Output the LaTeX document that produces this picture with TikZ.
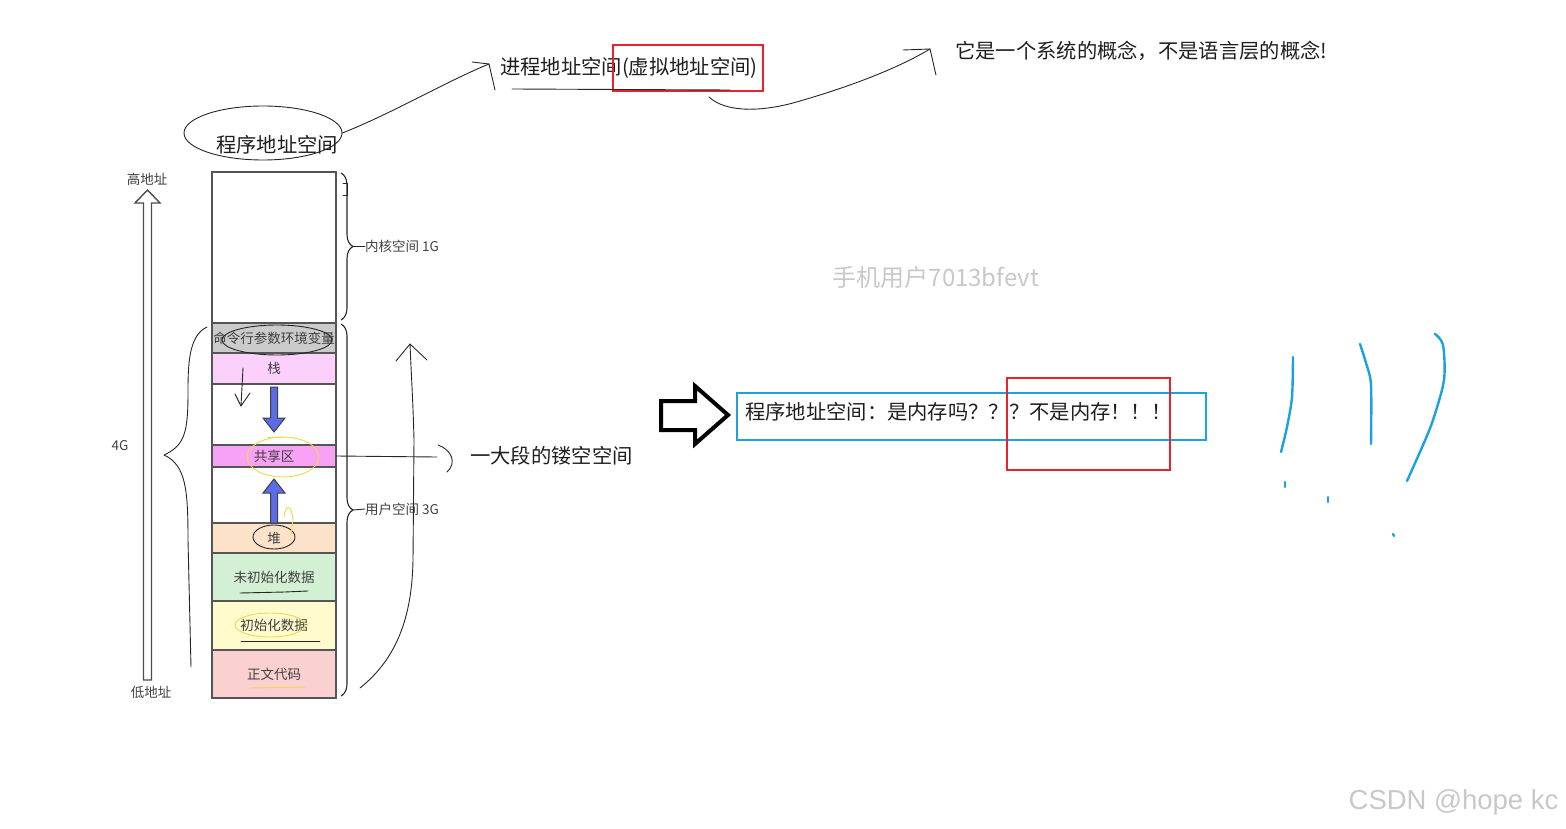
\documentclass[tikz,border=0pt]{standalone}
\usepackage{fontspec}
\setmainfont{Noto Sans CJK SC}
\newfontfamily\csdnfont{Liberation Sans}
\usetikzlibrary{shapes.geometric,decorations.pathreplacing}

\definecolor{segline}{HTML}{555555}
\definecolor{segGray}{HTML}{CBCBCB}
\definecolor{segPink}{HTML}{FBD0FB}
\definecolor{segMag}{HTML}{F7A2F5}
\definecolor{segPeach}{HTML}{FDE2CA}
\definecolor{segGreen}{HTML}{D4F0D4}
\definecolor{segYellow}{HTML}{FFFBCD}
\definecolor{segRed}{HTML}{FAD0D0}
\definecolor{labelgray}{HTML}{404040}
\definecolor{textdark}{HTML}{1E1E1E}
\definecolor{boxblue}{HTML}{1BA1E2}
\definecolor{boxred}{HTML}{E8232B}
\definecolor{arrowblue}{HTML}{5C6CE6}
\definecolor{markyellow}{HTML}{EED94C}
\definecolor{wmgray}{HTML}{C8C8C8}

\begin{document}
\begin{tikzpicture}[x=1pt,y=-1pt,
  seg/.style={draw=segline,line width=1.4pt,minimum width=124pt,inner sep=0pt,
    outer sep=0pt,font=\fontsize{13.5}{15}\selectfont,text=labelgray},
  small/.style={font=\fontsize{13.5}{15}\selectfont,text=labelgray,inner sep=0pt},
  big/.style={font=\fontsize{20.3}{22}\selectfont,text=textdark,inner sep=0pt},
  hand/.style={draw=black!85,line width=0.9pt,line cap=round,line join=round},
  yel/.style={draw=markyellow,line width=0.9pt,line cap=round},
  scrib/.style={draw=boxblue,line width=2.4pt,line cap=round,line join=round},
  bluearrow/.style={draw=black!75,fill=arrowblue,line width=1pt},
  redbox/.style={draw=boxred,line width=1.5pt},
  curly/.style={draw=black!85,line width=1.1pt,decorate,decoration={brace,amplitude=12pt}}]
    \useasboundingbox (0,0) rectangle (1566,829);

    \foreach \nm/\ya/\yb/\col/\txt in {kern/172/323/white/{},
        cmd/323/353/segGray/命令行参数环境变量,stk/353/384/segPink/栈,
        gapa/384/445/white/{},shr/445/467/segMag/共享区,gapb/467/523/white/{},
        heap/523/553/segPeach/堆,bss/553/601/segGreen/未初始化数据,
        dat/601/650/segYellow/初始化数据,code/650/698/segRed/正文代码} {
      \pgfmathsetmacro\h{\yb-\ya}
      \node[seg,fill=\col,minimum height=\h pt] (\nm) at (274,{(\ya+\yb)/2}) {\txt};
    }

    \draw[bluearrow] (270.5,387) -- (277.5,387) -- (277.5,418) -- (285,418)
      -- (274,432) -- (263,418) -- (270.5,418) -- cycle;
    \draw[bluearrow] (270.5,523) -- (277.5,523) -- (277.5,493) -- (285,493)
      -- (274,479) -- (263,493) -- (270.5,493) -- cycle;

    \draw[hand] (277,340) ellipse [x radius=55,y radius=15];
    \draw[hand] (274,537) ellipse [x radius=21,y radius=12];
    \draw[yel] (283,457) ellipse [x radius=36,y radius=20];
    \draw[yel] (268,437) -- (283,437);
    \draw[yel] (270,625) ellipse [x radius=35,y radius=12];
    \draw[yel] (284,517) .. controls (286,503) and (292,505) .. (293,520) -- (291,535);
    \draw[yel] (250,688) -- (306,687);
    \draw[hand] (240,593) -- (285,592) -- (308,591);
    \draw[hand] (241,641) -- (320,641);
    \draw[hand] (243,368) -- (241,406);
    \draw[hand] (235,394) -- (241,406) -- (250,393);

    \draw[draw=black!70,fill=white,line width=1.4pt] (143.5,680) -- (143.5,203)
      -- (135,203) -- (147.5,190) -- (160,203) -- (151.5,203) -- (151.5,680) -- cycle;
    \node[small] (hi) at (147,179) {高地址};
    \node[small] (lo) at (151,692) {低地址};
    \node[small] (four) at (120,446) {4G};
    \draw[hand] (207,327) .. controls (190,335) and (188,360) .. (188,390)
      .. controls (188,430) and (186,445) .. (164,455)
      .. controls (186,465) and (188,490) .. (188,540) -- (191,667);

    \draw[curly] (341,173) -- (341,320);
    \draw[curly] (341,324) -- (341,696);
    \draw[hand] (343,183) -- (347,183) -- (347,195) -- (343,195);
    \coordinate (ktip) at (353,246);
    \coordinate (utip) at (353,510);
    \node[small,anchor=west] (kernlbl) at (365,246) {内核空间 1G};
    \node[small,anchor=west] (userlbl) at (365,509) {用户空间 3G};
    \draw[hand] (ktip) -- (kernlbl.west);
    \draw[hand] (utip) -- (userlbl.west);

    \coordinate (uptip) at (410,344);
    \draw[hand] (360,688) .. controls (395,660) and (412,620) .. (413,560)
      -- (414,440) .. controls (413,400) and (411,370) .. (uptip);
    \draw[hand] (396,361) -- (uptip) -- (427,360);

    \node[big,anchor=west] (hollow) at (470,456) {一大段的镂空空间};
    \draw[hand] (shr.east) -- (437,457);
    \draw[hand] (438,445) .. controls (452,450) and (457,463) .. (447,472);

    \node[draw=black!85,ellipse,line width=0.9pt,minimum width=158pt,minimum height=54pt]
      (progell) at (263,133) {};
    \node[big] (prog) at (277,145) {程序地址空间};
    \node[big,anchor=west] (proc) at (500,68) {进程地址空间(虚拟地址空间)};
    \draw[redbox] (613,45) rectangle (763,91);
    \draw[hand] (512,89) -- (730,90);
    \coordinate (hooka) at (489,64);
    \draw[hand] (progell.east) .. controls (395,112) and (445,82) .. (hooka);
    \draw[hand] (472,62) -- (hooka) -- (495,90);

    \node[big,anchor=west] (sysnote) at (955,51) {它是一个系统的概念，不是语言层的概念!};
    \coordinate (hookb) at (930,49);
    \draw[hand] (709,97) .. controls (725,112) and (760,113) .. (800,101)
      .. controls (845,88) and (895,70) .. (hookb);
    \draw[hand] (903,50) -- (hookb) -- (936,75);

    \node[font=\fontsize{24}{26}\selectfont,text=wmgray] (wm) at (936,277) {手机用户7013bfevt};

    \draw[draw=black,line width=4pt,line join=miter] (661,401) -- (695,401) -- (695,386)
      -- (728,415) -- (695,444) -- (695,430) -- (661,430) -- cycle;
    \draw[draw=boxblue,line width=1.5pt] (737,393) rectangle (1206,440);
    \node[big,anchor=west] (memq) at (745,412) {程序地址空间：是内存吗？？？不是内存！！！};
    \draw[redbox] (1007,378) rectangle (1170,470);

    \draw[scrib] plot[smooth] coordinates {(1293,357) (1292,397) (1287,427) (1281,452)};
    \draw[scrib] plot[smooth] coordinates {(1360,344) (1366,363) (1371,385) (1371,444)};
    \draw[scrib] plot[smooth] coordinates {(1435,334) (1443,345) (1444,380) (1433,420)
      (1423,445) (1407,481)};
    \draw[scrib] (1285,482) -- (1285,487);
    \draw[scrib] (1328,497) -- (1328,502);
    \draw[scrib] (1393,534) -- (1394,536);

    \node[font=\csdnfont\fontsize{27.5}{30}\selectfont,text=wmgray,anchor=east] (csdn)
      at (1562,802) {CSDN @hope kc};
  \end{tikzpicture}
\end{document}
